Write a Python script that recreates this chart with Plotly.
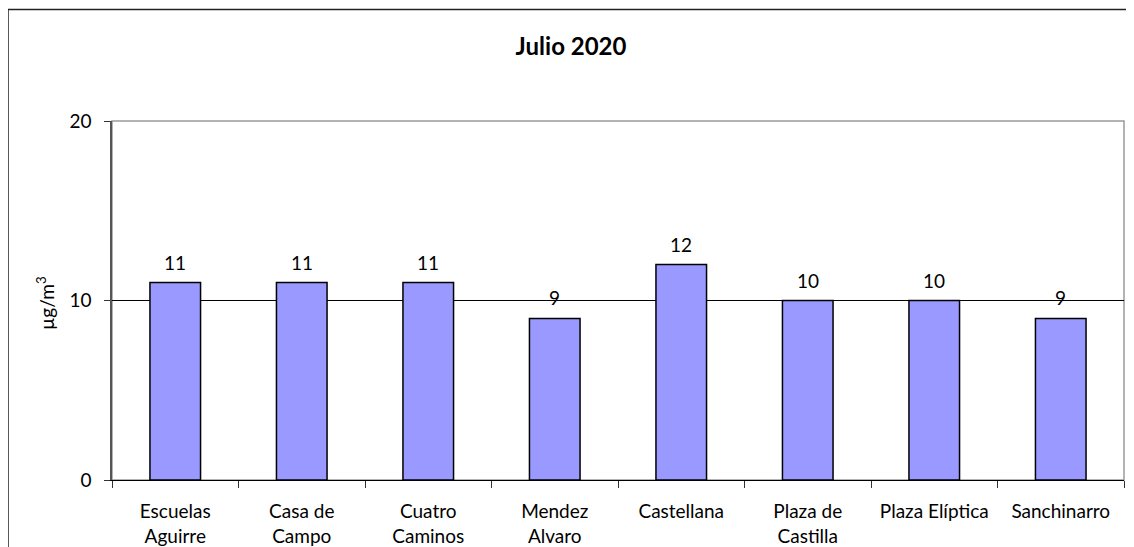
import plotly.graph_objects as go

categories = ["Escuelas<br>Aguirre", "Casa de<br>Campo", "Cuatro<br>Caminos", "Mendez<br>Alvaro",
              "Castellana", "Plaza de<br>Castilla", "Plaza Elíptica", "Sanchinarro"]
values = [11, 11, 11, 9, 12, 10, 10, 9]
y_ticks = [0, 10, 20]
title_text = "<b>Julio 2020</b>"
y_title = "µg/m<sup>3</sup>"

FONT = "Lato, 'Open Sans', sans-serif"

# page has an 8px body margin, so the figure is drawn from (8, 8)
OFF = 8
W, H = 1134 - OFF, 547 - OFF
L, R, T, B = 112 - OFF, 1134 - 1124, 121 - OFF, 547 - 480
pw, ph = W - L - R, H - T - B

def px(x):
    return (x - OFF - L) / pw

def py(y):
    return (H - B - (y - OFF)) / ph

fig = go.Figure()
fig.add_trace(go.Bar(
    x=categories, y=values,
    marker=dict(color="#9999FF", line=dict(color="black", width=1.5)),
    width=0.4,
    hoverinfo="skip",
))

for c, v in zip(categories, values):
    fig.add_annotation(x=c, y=v, text=str(v), showarrow=False, yanchor="bottom",
                       yshift=7, font=dict(family=FONT, size=19, color="black"))

# y axis title
fig.add_annotation(xref="paper", yref="paper", x=px(45), y=py(303), text=y_title,
                   textangle=-90, showarrow=False, xanchor="center", yanchor="middle",
                   font=dict(family=FONT, size=19, color="black"))

# outer chart border
fig.add_shape(type="rect", xref="paper", yref="paper",
              x0=px(8.0), x1=px(1133), y0=py(600), y1=py(9.5),
              line=dict(color="#222222", width=1.5), layer="below")
# plot area border (top/right grey)
fig.add_shape(type="rect", xref="paper", yref="paper", x0=0, x1=1, y0=0, y1=1,
              line=dict(color="#9a9a9a", width=1.5), layer="below")

fig.update_layout(
    width=W, height=H,
    margin=dict(l=L, r=R, t=T, b=B),
    paper_bgcolor="white", plot_bgcolor="white",
    showlegend=False,
    font=dict(family=FONT, size=19, color="black"),
    title=dict(text=title_text, x=0.5, xanchor="center",
               y=1 - (47 - OFF) / H, yanchor="middle",
               font=dict(family=FONT, size=24, color="black")),
)
fig.update_xaxes(
    automargin=False,
    showline=True, linecolor="black", linewidth=1,
    ticks="outside", tickson="boundaries", ticklen=7, tickcolor="#333333",
    tickfont=dict(family=FONT, size=19, color="black"),
    ticklabelstandoff=14,
    showgrid=False, range=[-0.5, 7.5],
)
fig.update_yaxes(
    automargin=False,
    range=[0, 20], tickvals=y_ticks,
    showline=True, linecolor="#555555", linewidth=1.5,
    ticks="outside", ticklen=6, tickcolor="#333333",
    ticklabelstandoff=9,
    showgrid=True, gridcolor="black", gridwidth=1,
    zeroline=False,
    tickfont=dict(family=FONT, size=19, color="black"),
)

fig.write_html("out.html")
